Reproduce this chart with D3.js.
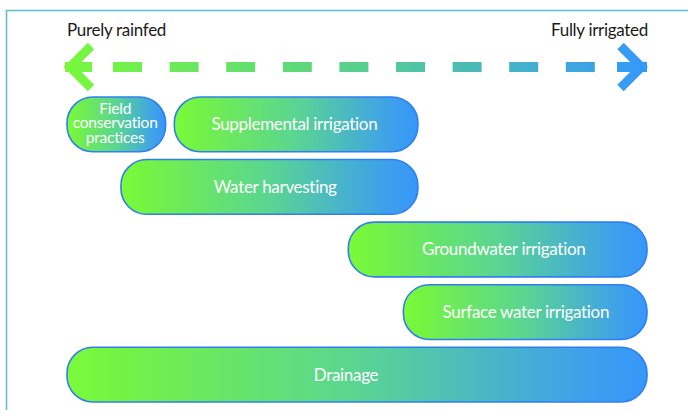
<!DOCTYPE html>
<html><head><meta charset="utf-8">
<script src="https://cdn.jsdelivr.net/npm/d3@7"></script>
<style>html,body{margin:0;padding:0;background:#fff;overflow:hidden}</style>
</head><body>
<svg id="chart" width="688" height="410"></svg>
<script>
// Data (position on the rainfed→irrigated scale, 0 = purely rainfed, 100 = fully irrigated)
const categories = ["Field conservation practices", "Supplemental irrigation", "Water harvesting", "Groundwater irrigation", "Surface water irrigation", "Drainage"];
const labelLines = [["Field","conservation","practices"], ["Supplemental irrigation"], ["Water harvesting"], ["Groundwater irrigation"], ["Surface water irrigation"], ["Drainage"]];
const startValues = [0, 18.5, 9.3, 48.5, 58, 0];
const endValues   = [17, 60.5, 60.5, 100, 100, 100];
const labelValues = [8.3, 39.2, 35.9, 75.3, 79.1, 48.1];
const rowIndex    = [0, 0, 1, 2, 3, 4];
const axisLabels  = ["Purely rainfed", "Fully irrigated"];

const svg = d3.select("#chart");

const x = d3.scaleLinear().domain([0, 100]).range([67, 647]);
const y = d3.scaleBand().domain(d3.range(5)).range([97, 402]).paddingInner(0.125);

const defs = svg.append("defs");
const lineGrad = defs.append("linearGradient").attr("id", "lineGrad")
  .attr("gradientUnits", "userSpaceOnUse").attr("x1", x(0) - 4).attr("x2", x(100) + 1).attr("y1", 0).attr("y2", 0);
lineGrad.append("stop").attr("offset", 0).attr("stop-color", "#78f93a");
lineGrad.append("stop").attr("offset", 0.5).attr("stop-color", "#58d08c");
lineGrad.append("stop").attr("offset", 1).attr("stop-color", "#3498fb");

const barGrad = defs.append("linearGradient").attr("id", "barGrad")
  .attr("x1", 0).attr("x2", 1).attr("y1", 0).attr("y2", 0);
[[0, "#7bfb3a"], [0.07, "#75f441"], [0.5, "#5ad592"], [0.9, "#3d9fed"], [1, "#3797f9"]]
  .forEach(([o, c]) => barGrad.append("stop").attr("offset", o).attr("stop-color", c));

// frame
svg.append("rect").attr("x", 6.5).attr("y", 10.5).attr("width", 720).attr("height", 440)
  .attr("fill", "none").attr("stroke", "#62bfcb").attr("stroke-width", 1.6);

// axis labels
const font = "Lato";
svg.append("text").attr("x", x(0)).attr("y", 36).text(axisLabels[0])
  .attr("font-family", font).attr("font-size", 17).attr("letter-spacing", -0.3).attr("fill", "#1a1a1a");
svg.append("text").attr("x", x(100) + 1).attr("y", 36).attr("text-anchor", "end").text(axisLabels[1])
  .attr("font-family", font).attr("font-size", 17).attr("letter-spacing", -0.3).attr("fill", "#1a1a1a");

// dashed arrow
const ay = 67;
const g = svg.append("g").attr("stroke", "url(#lineGrad)").attr("fill", "none");
g.append("line").attr("x1", 113).attr("x2", 596).attr("y1", ay).attr("y2", ay)
  .attr("stroke-width", 10).attr("stroke-dasharray", "29 27.6");
// left arrow
const lv = x(0) + 3;
g.append("line").attr("x1", x(0) - 2).attr("x2", x(0) + 25).attr("y1", ay).attr("y2", ay).attr("stroke-width", 10);
g.append("polyline").attr("points", [[lv + 21, ay - 21], [lv, ay], [lv + 21, ay + 21]].join(" "))
  .attr("stroke-width", 9).attr("stroke-linejoin", "miter");
// right arrow
const rv = x(100) - 5.5;
g.append("line").attr("x1", 617).attr("x2", x(100)).attr("y1", ay).attr("y2", ay).attr("stroke-width", 10);
g.append("polyline").attr("points", [[rv - 21, ay - 21], [rv, ay], [rv - 21, ay + 21]].join(" "))
  .attr("stroke-width", 9).attr("stroke-linejoin", "miter");

// bars
const data = categories.map((c, i) => ({ c, lines: labelLines[i], s: startValues[i], e: endValues[i], lx: labelValues[i], r: rowIndex[i] }));
const bars = svg.append("g").selectAll("g").data(data).join("g");
bars.append("rect")
  .attr("x", d => x(d.s)).attr("y", d => y(d.r))
  .attr("width", d => x(d.e) - x(d.s)).attr("height", y.bandwidth())
  .attr("rx", 26).attr("ry", 26)
  .attr("fill", "url(#barGrad)").attr("stroke", "#2f7ff0").attr("stroke-width", 1.6);
bars.each(function(d) {
  const cx = x(d.lx);
  const cy = y(d.r) + y.bandwidth() / 2;
  const n = d.lines.length;
  const lh = 14.5;
  const t = d3.select(this).append("text")
    .attr("font-family", font).attr("font-size", n > 1 ? 15.5 : 17)
    .attr("letter-spacing", n > 1 ? -0.2 : -0.3).attr("fill", "#fff")
    .attr("text-anchor", "middle");
  d.lines.forEach((l, k) => {
    t.append("tspan").attr("x", cx).attr("y", cy + (k - (n - 1) / 2) * lh - (n > 1 ? 1.5 : 0)).attr("dy", "0.35em").text(l);
  });
});
</script>
</body></html>
